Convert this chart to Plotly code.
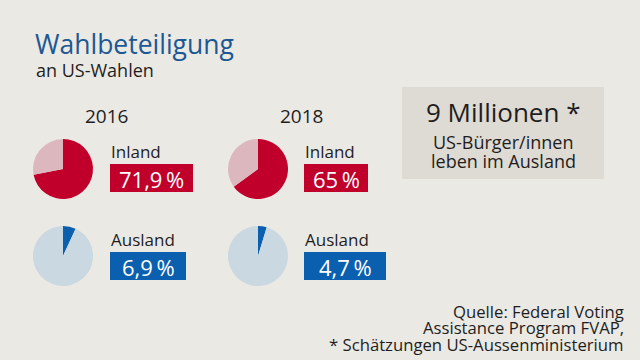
import plotly.graph_objects as go

# ---- data ----
years = ["2016", "2018"]
inland = [71.9, 65.0]
ausland = [6.9, 4.7]
groups = ["Inland", "Ausland"]
title = "Wahlbeteiligung"
subtitle = "an US-Wahlen"
box_head = "9 Millionen *"
box_lines = ["US-Bürger/innen", "leben im Ausland"]
source_lines = ["Quelle: Federal Voting", "Assistance Program FVAP,", "* Schätzungen US-Aussenministerium"]

# ---- style ----
W, H = 640, 360
BG = "#ebe9e4"
FONT = "Open Sans"
RED, RED_L = "#c0002b", "#dcb7bd"
BLUE, BLUE_L = "#0b5faf", "#c9d8e1"
TITLE_BLUE = "#1c5893"
TXT = "#1e1e1e"

def px(x):
    return x / W

def py(y):
    return 1 - y / H

def fmt(v):
    s = f"{v:g}".replace(".", ",")
    return s + "\u2009%"

fig = go.Figure()
shapes = []
ann = []

def text(x, y, t, size, color=TXT, xanchor="left", family=FONT):
    ann.append(dict(x=px(x), y=py(y), xref="paper", yref="paper", text=t, showarrow=False,
                    xanchor=xanchor, yanchor="middle",
                    font=dict(family=family, size=size, color=color)))

col_cx = [63, 258]        # pie centres x
row_cy = [169, 256]       # pie centres y
R = 30
lab_x = [110, 304]
box_w = {("Inland", 0): 83, ("Inland", 1): 64, ("Ausland", 0): 76, ("Ausland", 1): 82}

for i, yr in enumerate(years):
    text(col_cx[i] + 43, 116, yr, 19, xanchor="center")
    for j, (g, vals, c1, c2) in enumerate([("Inland", inland, RED, RED_L), ("Ausland", ausland, BLUE, BLUE_L)]):
        v = vals[i]
        cx, cy = col_cx[i], row_cy[j]
        fig.add_trace(go.Pie(
            values=[v, 100 - v], labels=[g, "Rest"], sort=False, direction="clockwise", rotation=0,
            marker=dict(colors=[c1, c2], line=dict(width=0)), textinfo="none", hoverinfo="skip",
            showlegend=False,
            domain=dict(x=[px(cx - R), px(cx + R)], y=[py(cy + R), py(cy - R)])))
        ly = 151 if j == 0 else 239
        text(lab_x[i] - 1, ly, g, 17)
        by0 = 164 if j == 0 else 252
        bw = box_w[(g, i)]
        shapes.append(dict(type="rect", xref="paper", yref="paper",
                           x0=px(lab_x[i]), x1=px(lab_x[i] + bw), y0=py(by0 + 28), y1=py(by0),
                           fillcolor=c1, line=dict(width=0), layer="below"))
        text(lab_x[i] + bw / 2, by0 + 14.5, fmt(v), 22, color="white", xanchor="center")

# title
text(33, 44, title, 26.5, color=TITLE_BLUE)
text(34, 70, subtitle, 18)

# info box
shapes.append(dict(type="rect", xref="paper", yref="paper", x0=px(402), x1=px(604), y0=py(179), y1=py(87),
                   fillcolor="#dedad4", line=dict(width=0), layer="below"))
text(503, 112, box_head, 26, xanchor="center")
text(503, 142, box_lines[0], 18, xanchor="center")
text(503, 161, box_lines[1], 18, xanchor="center")

# source
for k, s in enumerate(source_lines):
    text(626, 311 + k * 16.5, s, 16.7, xanchor="right")

fig.update_layout(width=W, height=H, margin=dict(l=0, r=0, t=0, b=0),
                  paper_bgcolor=BG, plot_bgcolor=BG, shapes=shapes, annotations=ann,
                  showlegend=False)
fig.write_html("out.html", config={"displayModeBar": False},
               post_script="document.body.style.margin='0';document.body.style.background='" + BG + "';")
